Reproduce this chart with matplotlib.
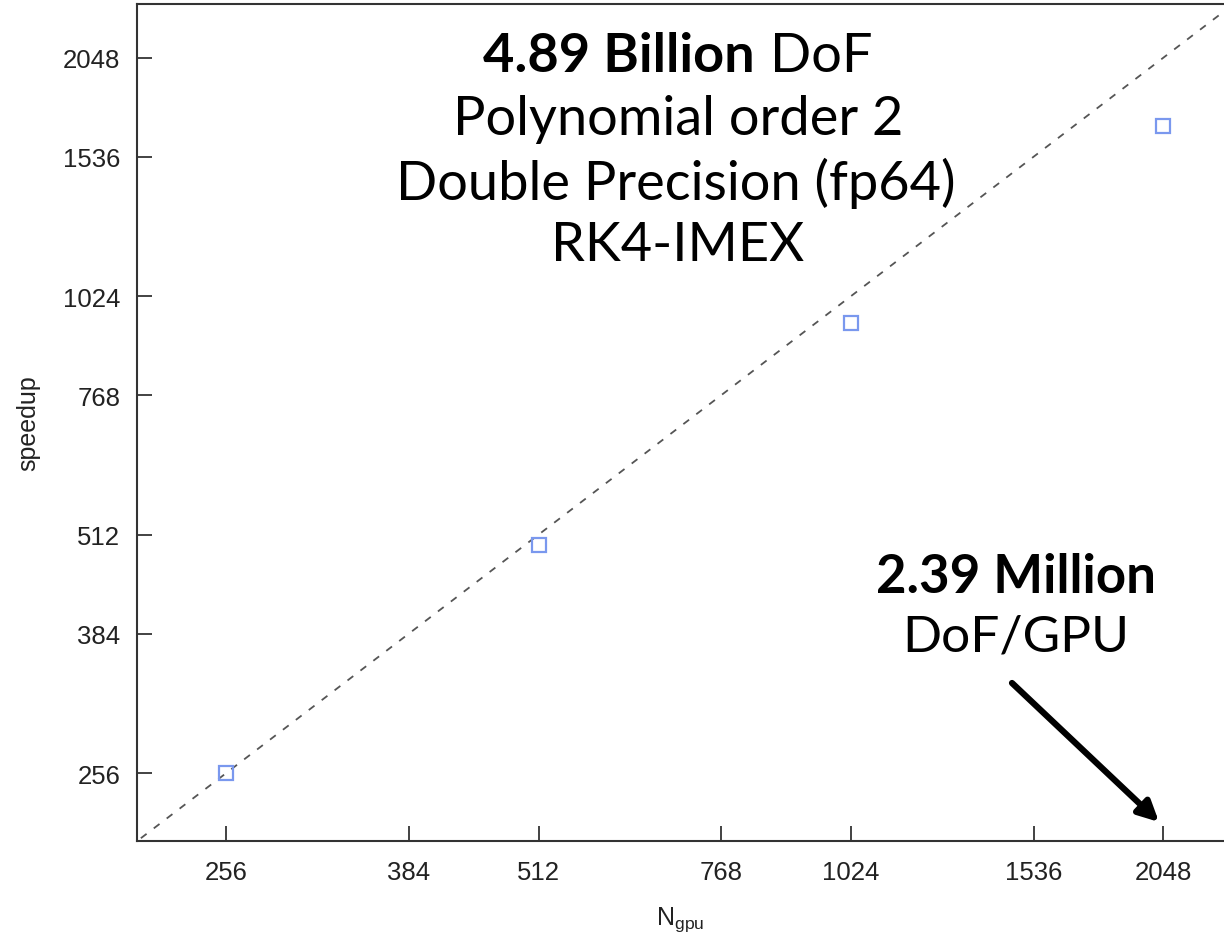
import matplotlib
matplotlib.use("Agg")
import matplotlib.pyplot as plt
from matplotlib.offsetbox import TextArea, HPacker, AnnotationBbox

# data
n_gpu = [256, 512, 1024, 2048]
speedup = [256, 497, 947, 1682]
ideal = [200, 2600]
tick_vals = [256, 384, 512, 768, 1024, 1536, 2048]
tick_labels = [str(t) for t in tick_vals]

plt.rcParams['font.family'] = ['Liberation Sans', 'DejaVu Sans']
plt.rcParams['mathtext.fontset'] = 'custom'
plt.rcParams['mathtext.rm'] = 'Liberation Sans'

fig = plt.figure(figsize=(12.24, 9.37), dpi=100)
ax = fig.add_axes([137/1224, 95/937, 1 - 137/1224, 837/937])

ax.plot(ideal, ideal, ls=(0, (4, 5)), color='#555555', lw=1.3)
ax.plot(n_gpu, speedup, ls='none', marker='s', ms=10, mfc='none',
        mec='#7a98ee', mew=1.6)

ax.set_xscale('log', base=2)
ax.set_yscale('log', base=2)
ax.set_xlim(210, 2344)
ax.set_ylim(210.1, 2395)
ax.set_xticks(tick_vals)
ax.set_xticklabels(tick_labels)
ax.set_yticks(tick_vals)
ax.set_yticklabels(tick_labels)
ax.minorticks_off()
ax.tick_params(direction='in', length=11, width=1.2, labelsize=18.5,
               colors='#222222', pad=14)
ax.tick_params(axis='y', pad=12)
for s in ['left', 'bottom', 'top']:
    ax.spines[s].set_linewidth(1.5)
    ax.spines[s].set_color('#333333')
ax.spines['right'].set_visible(False)

ax.set_xlabel(r'N$_{\rm gpu}$', fontsize=18, labelpad=14, color='#222222')
ax.set_ylabel('speedup', fontsize=18, labelpad=16, color='#222222')

# annotation text
big = dict(family=['Lato', 'DejaVu Sans'], size=39, color='black')
bold = dict(big, weight='bold')

def mixed(parts, x, y):
    areas = [TextArea(t, textprops=p) for t, p in parts]
    box = HPacker(children=areas, pad=0, sep=11, align='baseline')
    ab = AnnotationBbox(box, (x, y), xycoords='figure pixels', frameon=False,
                        box_alignment=(0.5, 0.5), pad=0)
    fig.add_artist(ab)

H = 937
mixed([('4.89 Billion', bold), ('DoF', big)], 678, H - 57)
fig.text(678, H - 120, 'Polynomial order 2', ha='center', va='center',
         transform=None, **big)
fig.text(676, H - 183, 'Double Precision (fp64)', ha='center', va='center',
         transform=None, **big)
fig.text(678, H - 246, 'RK4-IMEX', ha='center', va='center',
         transform=None, **big)

fig.text(1016, H - 578, '2.39 Million', ha='center', va='center',
         transform=None, **dict(bold, size=38))
fig.text(1016, H - 638, 'DoF/GPU', ha='center', va='center',
         transform=None, **dict(big, size=37))

ax.annotate('', xy=(1159, H - 823), xycoords='figure pixels',
            xytext=(1012, H - 684), textcoords='figure pixels',
            arrowprops=dict(arrowstyle='-|>,head_length=1.2,head_width=0.6',
                            lw=4.5, color='black', shrinkA=0, shrinkB=0))

fig.savefig('out.png', dpi=100)
